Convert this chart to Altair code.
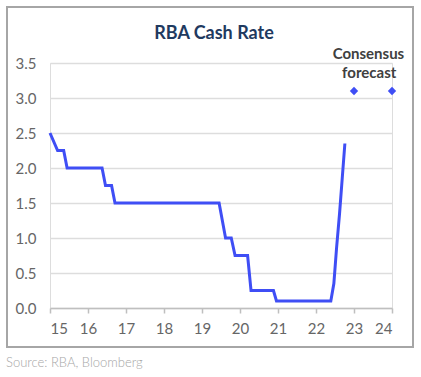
import altair as alt
import pandas as pd

# Cash rate path (year since 2000, % rate)
years = [15.0, 15.2, 15.36, 15.45, 16.37, 16.46, 16.62, 16.71, 19.45, 19.62, 19.77, 19.87,
         20.2, 20.29, 20.88, 20.96, 22.39, 22.47, 22.54, 22.62, 22.69, 22.76]
rates = [2.5, 2.25, 2.25, 2.0, 2.0, 1.75, 1.75, 1.5, 1.5, 1.0, 1.0, 0.75,
         0.75, 0.25, 0.25, 0.1, 0.1, 0.35, 0.85, 1.35, 1.85, 2.35]

# Consensus forecast points
fc_years = [23.0, 24.0]
fc_rates = [3.1, 3.1]

# Annotation
note_text = ["Consensus", "forecast"]
note_x = [23.38, 23.4]
note_y = [3.63, 3.36]

x_ticks = list(range(15, 25))
y_ticks = [0.0, 0.5, 1.0, 1.5, 2.0, 2.5, 3.0, 3.5]

BLUE = "#3f4ef5"
FONT = "Lato"

line_df = pd.DataFrame({"year": years, "rate": rates})
fc_df = pd.DataFrame({"year": fc_years, "rate": fc_rates})
note_df = pd.DataFrame({"label": note_text, "year": note_x, "rate": note_y})

xscale = alt.Scale(domain=[15, 24], nice=False, zero=False)
yscale = alt.Scale(domain=[0, 3.5], nice=False)

xaxis = alt.Axis(values=x_ticks, format="d", title=None, grid=False, labelOverlap=False,
                 domainColor="#bfbfbf", domainWidth=1.5, tickColor="#bfbfbf",
                 tickWidth=1.5, tickSize=5, labelFontSize=15, labelColor="#666666",
                 labelFont=FONT, labelPadding=8)
yaxis = alt.Axis(values=y_ticks, format=".1f", title=None, domain=False, ticks=False,
                 labelOverlap=False,
                 gridColor="#dddddd", gridWidth=1.5, labelFontSize=15,
                 labelColor="#666666", labelFont=FONT, labelPadding=14)

X = alt.X("year:Q", scale=xscale, axis=xaxis)
Y = alt.Y("rate:Q", scale=yscale, axis=yaxis)

base_line = alt.Chart(line_df).mark_line(color=BLUE, strokeWidth=3, strokeJoin="miter").encode(
    x=X, y=Y,
)

points = alt.Chart(fc_df).mark_point(shape="diamond", filled=True, color=BLUE, size=70, opacity=1).encode(
    x=X, y=Y,
)

notes = alt.Chart(note_df).mark_text(font=FONT, fontSize=15, fontWeight="bold",
                                     color="#404040", baseline="middle", align="center").encode(
    x=X, y=Y, text="label:N",
)

frame = alt.Chart(pd.DataFrame({"k": [0]})).mark_rect(
    fill=None, stroke="#a6a6a6", strokeWidth=2
).encode(x=alt.value(-43), x2=alt.value(363), y=alt.value(-56), y2=alt.value(284))

title = alt.Chart(pd.DataFrame({"t": ["RBA Cash Rate"]})).mark_text(
    font=FONT, fontSize=18, fontWeight="bold", color="#1f3a5f", align="center", baseline="middle"
).encode(x=alt.value(164), y=alt.value(-29), text="t:N")

source = alt.Chart(pd.DataFrame({"t": ["Source: RBA, Bloomberg"]})).mark_text(
    font=FONT, fontSize=13, fontWeight=300, color="#a6a6a6", align="left", baseline="middle"
).encode(x=alt.value(-44), y=alt.value(300), text="t:N")

chart = alt.layer(frame, base_line, points, notes, title, source).properties(
    width=342, height=245,
    autosize=alt.AutoSizeParams(type="none"),
    padding={"left": 50, "top": 63, "right": 29, "bottom": 69},
).configure_view(stroke=None).configure(background="white")

chart.save("out.html", embed_options={"renderer": "svg", "actions": False})
